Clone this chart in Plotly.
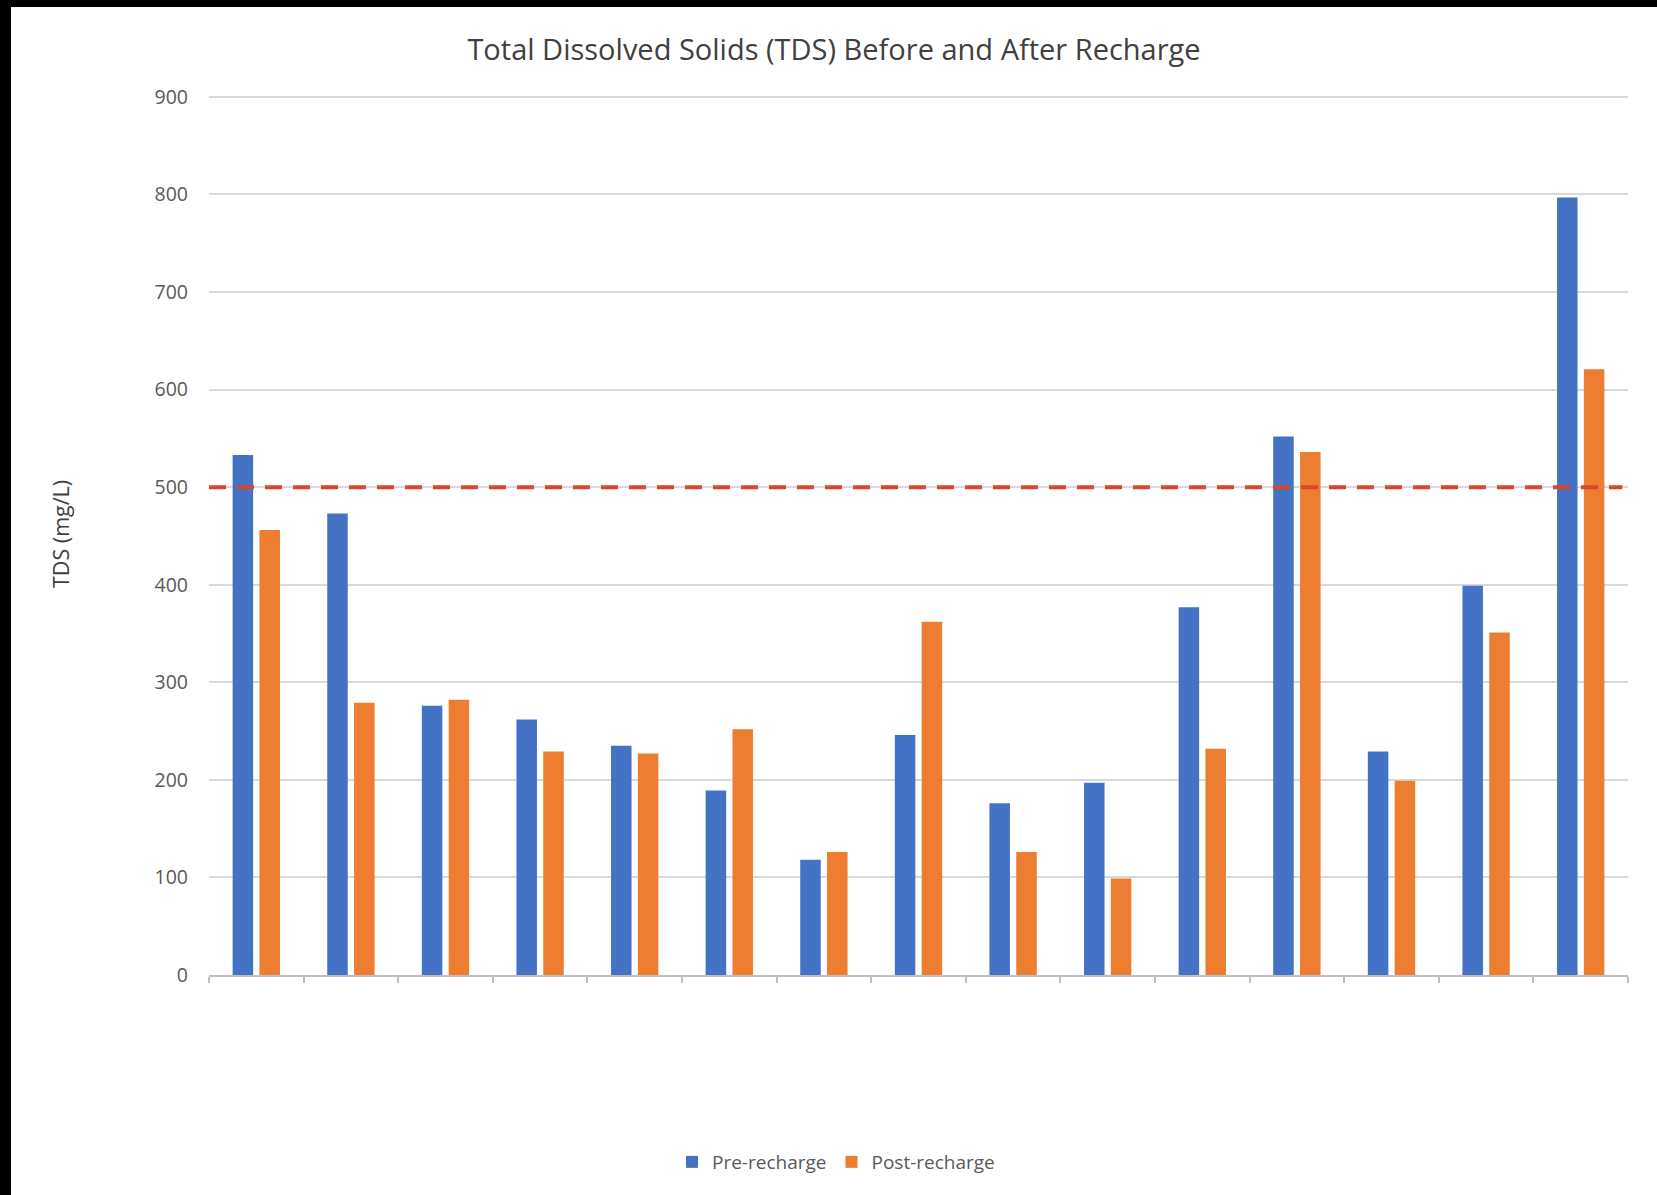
import plotly.graph_objects as go

# --- data ------------------------------------------------------------------
SITES = [str(i) for i in range(1, 16)]
PRE_RECHARGE = [533, 473, 276, 262, 235, 189, 118, 246, 176, 197, 377, 552, 229, 399, 797]
POST_RECHARGE = [456, 279, 282, 229, 227, 252, 126, 362, 126, 99, 232, 536, 199, 351, 621]
TDS_LIMIT = 500
Y_TICKS = list(range(0, 1000, 100))

TITLE = "Total Dissolved Solids (TDS) Before and After Recharge"
Y_TITLE = "TDS (mg/L)"

# --- styling ------------------------------------------------------------------
WIDTH, HEIGHT = 1657, 1195
# a few units of headroom above 900 so plotly keeps the top gridline
MARGIN = {"l": 209, "r": 29, "t": 94, "b": 220}
Y_RANGE = [0, 903]
BLUE = "#4472C4"
ORANGE = "#ED7D31"
RED = "#D9462B"
GRID = "#D9D9D9"
AXIS = "#BFBFBF"
TEXT = "#595959"
FONT = "'Open Sans', Lato, sans-serif"

plot_w = WIDTH - MARGIN["l"] - MARGIN["r"]
plot_h = HEIGHT - MARGIN["t"] - MARGIN["b"]


def _px_to_paper_x(px: float) -> float:
    return (px - MARGIN["l"]) / plot_w


def _px_to_paper_y(py: float) -> float:
    return (HEIGHT - MARGIN["b"] - py) / plot_h


fig = go.Figure()
fig.add_bar(
    x=SITES,
    y=PRE_RECHARGE,
    name="Pre-recharge",
    marker={"color": BLUE, "line": {"width": 0}},
)
fig.add_bar(
    x=SITES,
    y=POST_RECHARGE,
    name="Post-recharge",
    marker={"color": ORANGE, "line": {"width": 0}},
)

# guideline limit, drawn above the bars
fig.add_shape(
    type="line",
    xref="paper",
    yref="y",
    x0=0,
    x1=0.996,
    y0=TDS_LIMIT,
    y1=TDS_LIMIT,
    line={"color": RED, "width": 4, "dash": "17px,11px"},
    layer="above",
)

# black scan edges on the left and top of the picture
fig.add_shape(
    type="rect",
    xref="paper",
    yref="paper",
    x0=_px_to_paper_x(0),
    x1=_px_to_paper_x(11),
    y0=_px_to_paper_y(HEIGHT),
    y1=_px_to_paper_y(0),
    fillcolor="black",
    line={"width": 0},
    layer="above",
)
fig.add_shape(
    type="rect",
    xref="paper",
    yref="paper",
    x0=_px_to_paper_x(0),
    x1=_px_to_paper_x(WIDTH),
    y0=_px_to_paper_y(7),
    y1=_px_to_paper_y(0),
    fillcolor="black",
    line={"width": 0},
    layer="above",
)

fig.add_annotation(
    text=Y_TITLE,
    xref="paper",
    yref="paper",
    x=_px_to_paper_x(60),
    xanchor="center",
    y=_px_to_paper_y(534),
    yanchor="middle",
    showarrow=False,
    textangle=-90,
    font={"family": FONT, "size": 21.5, "color": "#404040"},
)

fig.update_layout(
    width=WIDTH,
    height=HEIGHT,
    margin=MARGIN,
    paper_bgcolor="white",
    plot_bgcolor="white",
    font={"family": FONT, "color": TEXT},
    title={
        "text": TITLE,
        "x": _px_to_paper_x(834),
        "xref": "paper",
        "xanchor": "center",
        "y": 1 - 50 / HEIGHT,
        "yanchor": "middle",
        "font": {"family": FONT, "size": 29, "color": "#404040"},
    },
    barmode="group",
    bargap=0.433,
    bargroupgap=0.235,
    showlegend=True,
    legend={
        "orientation": "h",
        "x": _px_to_paper_x(836),
        "xanchor": "center",
        "y": _px_to_paper_y(1162),
        "yanchor": "middle",
        "font": {"family": FONT, "size": 19, "color": TEXT},
        "itemwidth": 30,
        "traceorder": "normal",
    },
)
fig.update_xaxes(
    type="category",
    showticklabels=False,
    showgrid=False,
    showline=True,
    linecolor=AXIS,
    linewidth=1.5,
    ticks="outside",
    tickson="boundaries",
    ticklen=6,
    tickcolor=AXIS,
    tickwidth=1.5,
)
fig.update_yaxes(
    range=Y_RANGE,
    tickvals=Y_TICKS,
    showgrid=True,
    gridcolor=GRID,
    gridwidth=1.5,
    zeroline=False,
    showline=False,
    ticks="",
    ticklabelstandoff=20,
    tickfont={"family": FONT, "size": 19.5, "color": TEXT},
)

# drop the page's default body margin so the figure sits at the window's corner
fig.write_html(
    "out.html",
    config={"displayModeBar": False},
    post_script="document.body.style.margin='0';",
)
